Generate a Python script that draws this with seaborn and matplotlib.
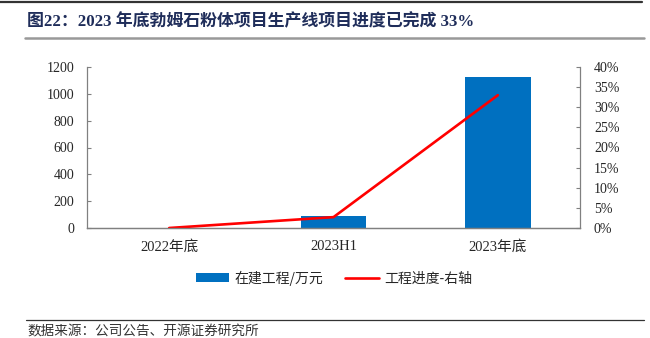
import numpy as np
import matplotlib
matplotlib.use("Agg")
import matplotlib.pyplot as plt
from matplotlib.lines import Line2D
from matplotlib.patches import Patch
import seaborn as sns

categories = ["2022年底", "2023H1", "2023年底"]
construction = [0, 89, 1123]          # 在建工程/万元
progress = [0.0, 0.027, 0.33]         # 工程进度（右轴）
left_ticks = [0, 200, 400, 600, 800, 1000, 1200]
right_ticks = [0, 0.05, 0.10, 0.15, 0.20, 0.25, 0.30, 0.35, 0.40]

sns.set_theme(style="white")
plt.rcParams["font.family"] = ["Liberation Serif", "Noto Sans CJK SC"]
plt.rcParams["axes.unicode_minus"] = False

BAR = "#0070C0"
LINE = "#FF0000"
AXC = "#808080"

fig = plt.figure(figsize=(6.5, 3.38), dpi=100)
ax = fig.add_axes([87 / 650, 1 - 228 / 338, (580 - 87) / 650, (228 - 67) / 338])

sns.barplot(x=categories, y=construction, ax=ax, color=BAR, width=0.4,
            saturation=1, edgecolor="none")
ax.set_xlim(-0.5, 2.5)
ax.set_ylim(0, 1200)
ax.set_yticks(left_ticks)
ax.set_yticklabels([str(v) for v in left_ticks], fontsize=10)
ax.set_xlabel("")
ax.set_ylabel("")
ax.set_xticks([0, 1, 2])
ax.set_xticklabels(categories, fontsize=10.5)
ax.set_xticks([0.5, 1.5], minor=True)
ax.tick_params(axis="x", which="major", length=0, pad=9)
ax.tick_params(axis="x", which="minor", direction="in", length=3, color=AXC, width=0.8)
ax.tick_params(axis="y", direction="in", length=3, color=AXC, width=0.8, pad=9)

ax2 = ax.twinx()
sns.lineplot(x=np.arange(len(categories)), y=progress, ax=ax2, color=LINE,
             linewidth=1.9)
ax2.set_ylim(0, 0.40)
ax2.set_yticks(right_ticks)
ax2.set_yticklabels([f"{round(v * 100)}%" for v in right_ticks], fontsize=10)
ax2.tick_params(axis="y", direction="in", length=3, color=AXC, width=0.8, pad=10)
ax2.set_ylabel("")
ax2.set_xlim(-0.5, 2.5)

for a in (ax, ax2):
    a.spines["top"].set_visible(False)
    for s in ("left", "right", "bottom"):
        a.spines[s].set_color(AXC)
        a.spines[s].set_linewidth(0.9)
    a.grid(False)
ax.spines["right"].set_visible(False)
ax2.spines["left"].set_visible(False)

cjk = ["Noto Sans CJK SC", "DejaVu Sans"]
handles = [Patch(facecolor=BAR, edgecolor="none"),
           Line2D([0], [0], color=LINE, linewidth=1.9)]
fig.legend(handles, ["在建工程/万元", "工程进度-右轴"], loc="center",
           bbox_to_anchor=(334 / 650, 1 - 278 / 338), ncol=2, frameon=False,
           prop={"family": cjk, "size": 10}, handlelength=2.4,
           handleheight=0.55, columnspacing=1.6, handletextpad=0.4)

# Header and footer rules
fig.add_artist(Line2D([0, 642 / 650], [1 - 1.5 / 338] * 2, color="#333333", linewidth=1.6))
fig.add_artist(Line2D([25 / 650, 644 / 650], [1 - 38 / 338] * 2, color="#999999", linewidth=1.8))
fig.add_artist(Line2D([26 / 650, 644 / 650], [1 - 320 / 338] * 2, color="#333333", linewidth=0.9))

fig.text(27 / 650, 1 - 22 / 338, "图22：2023 年底勃姆石粉体项目生产线项目进度已完成 33%",
         family=["Liberation Serif", "Noto Sans CJK SC"], fontweight="bold",
         fontsize=12.2, color="#1F2D5A", va="center", ha="left")
fig.text(27 / 650, 1 - 331 / 338, "数据来源：公司公告、开源证券研究所",
         family=cjk, fontsize=9.8, color="#333333", va="center", ha="left")

fig.savefig("out.png", dpi=100)
